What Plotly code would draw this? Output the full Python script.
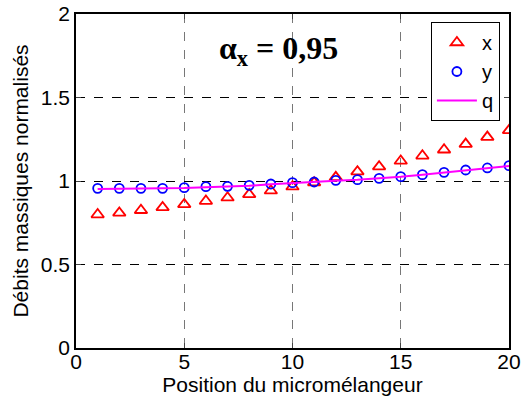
import plotly.graph_objects as go

positions = list(range(1, 21))
x_vals = [0.799, 0.809, 0.825, 0.842, 0.860, 0.880, 0.900, 0.920, 0.942, 0.966,
          0.990, 1.022, 1.056, 1.086, 1.120, 1.151, 1.187, 1.221, 1.263, 1.303]
y_vals = [0.956, 0.956, 0.956, 0.956, 0.960, 0.966, 0.968, 0.974, 0.982, 0.990,
          0.994, 1.004, 1.008, 1.016, 1.026, 1.038, 1.052, 1.066, 1.078, 1.092]
q_vals = [0.952, 0.953, 0.954, 0.955, 0.958, 0.963, 0.966, 0.972, 0.980, 0.988,
          0.993, 1.002, 1.007, 1.015, 1.025, 1.037, 1.051, 1.065, 1.077, 1.090]

fig = go.Figure()
fig.add_trace(go.Scatter(x=positions, y=x_vals, mode="markers", name="x",
                         marker=dict(symbol="triangle-up-open", size=11, color="red",
                                     line=dict(width=1.8, color="red"))))
fig.add_trace(go.Scatter(x=positions, y=y_vals, mode="markers", name="y",
                         marker=dict(symbol="circle-open", size=9, color="blue",
                                     line=dict(width=1.8, color="blue"))))
fig.add_trace(go.Scatter(x=positions, y=q_vals, mode="lines", name="q",
                         line=dict(color="magenta", width=2)))

font = dict(family="Liberation Sans, Arial, sans-serif", size=21, color="black")
fig.update_layout(
    width=522, height=400,
    margin=dict(l=76, r=13, t=14, b=52),
    paper_bgcolor="white", plot_bgcolor="white",
    font=font,
    xaxis=dict(range=[0, 20], tickvals=[0, 5, 10, 15, 20], ticks="inside", ticklen=5,
               showline=True, linecolor="black", linewidth=1.5, mirror="allticks",
               showgrid=True, gridcolor="#777777", griddash="dash", gridwidth=1,
               zeroline=False, automargin=False, tickfont=font,
               ticklabeloverflow="allow", ticklabelstandoff=-6,
               title=dict(text="Position du micromélangeur", standoff=0, font=font)),
    yaxis=dict(range=[0, 2], tickvals=[0, 0.5, 1, 1.5, 2], ticktext=["0", "0.5", "1", "1.5", "2"],
               ticks="inside", ticklen=5,
               showline=True, linecolor="black", linewidth=1.5, mirror="allticks",
               showgrid=True, gridcolor="black", griddash="dash", gridwidth=1,
               zeroline=False, automargin=False, tickfont=font,
               ticklabeloverflow="allow",
               title=dict(text="Débits massiques normalisés", standoff=6, font=font)),
    legend=dict(x=0.979, y=0.976, xanchor="right", yanchor="top",
                bgcolor="white", bordercolor="black", borderwidth=1,
                font=dict(family="Liberation Sans, Arial, sans-serif", size=20),
                itemwidth=40, tracegroupgap=0),
    showlegend=True,
)
fig.add_annotation(x=0.467, y=0.892, xref="paper", yref="paper", showarrow=False,
                   xanchor="center", yanchor="middle",
                   text="<b>α<sub>x</sub> = 0,95</b>",
                   font=dict(family="Liberation Serif, Times New Roman, serif", size=32, color="black"))

fig.write_html("out.html", config={"displayModeBar": False},
               post_script="document.body.style.margin='0';document.body.style.overflow='hidden';")
